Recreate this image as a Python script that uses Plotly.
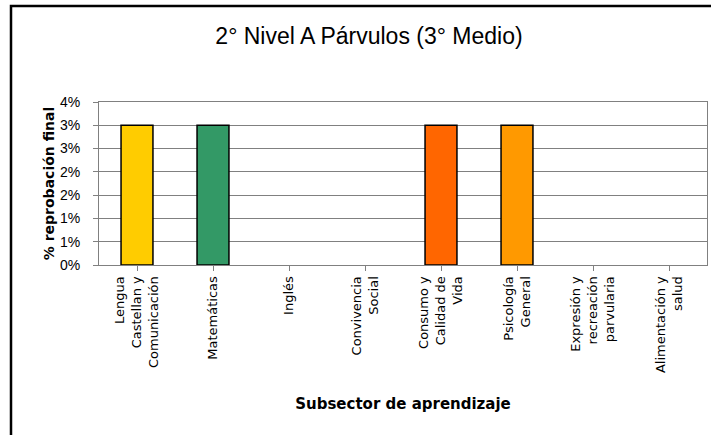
import plotly.graph_objects as go

categories = [
    "Lengua<br>Castellan y<br>Comunicación",
    "Matemáticas",
    "Inglés",
    "Convivencia<br>Social",
    "Consumo y<br>Calidad de<br>Vida",
    "Psicología<br>General",
    "Expresión y<br>recreación<br>parvularia",
    "Alimentación y<br>salud",
]
values = [3.0, 3.0, 0, 0, 3.0, 3.0, 0, 0]
bar_colors = ["#FFCC00", "#339966", "#FFFFFF", "#FFFFFF", "#FF6600", "#FF9900", "#FFFFFF", "#FFFFFF"]
y_tickvals = [0, 0.5, 1.0, 1.5, 2.0, 2.5, 3.0, 3.5]
y_ticktext = ["0%", "1%", "1%", "2%", "2%", "3%", "3%", "4%"]

title_text = "2° Nivel A Párvulos (3° Medio)"
x_title = "Subsector de aprendizaje"
y_title = "% reprobación final"

W, H = 711, 435
L, R, T, B = 99, 4, 102, 170
pw, ph = W - L - R, H - T - B

fig = go.Figure()
fig.add_trace(go.Bar(
    x=list(range(len(categories))),
    y=values,
    width=0.42,
    marker=dict(color=bar_colors,
                line=dict(color="#000000", width=[1.5 if v > 0 else 0 for v in values])),
    hoverinfo="skip",
))

def px_to_paper_x(px):
    return (px - L) / pw

def px_to_paper_y(py):
    return (H - B - py) / ph

fig.update_layout(
    width=W, height=H,
    margin=dict(l=L, r=R, t=T, b=B),
    paper_bgcolor="white",
    plot_bgcolor="white",
    showlegend=False,
    title=dict(text=title_text, x=369 / W, xref="container", xanchor="center",
               y=1 - 36 / H, yref="container", yanchor="middle",
               font=dict(family="Liberation Sans, Arial", size=23, color="#000000")),
    xaxis=dict(
        tickmode="array",
        tickvals=list(range(len(categories))),
        ticktext=categories,
        range=[-0.5, len(categories) - 0.5],
        tickangle=-90,
        ticks="outside", ticklen=5, tickcolor="#808080",
        tickson="boundaries",
        showgrid=False,
        showline=True, linecolor="#808080", linewidth=1, mirror=True,
        tickfont=dict(family="DejaVu Sans", size=13, color="#000000"),
        title=dict(text=x_title, standoff=26,
                   font=dict(family="DejaVu Sans", size=15, color="#000000", weight="bold")),
        automargin=False,
    ),
    yaxis=dict(
        range=[0, 3.5],
        tickmode="array",
        tickvals=y_tickvals,
        ticktext=y_ticktext,
        ticks="outside", ticklen=5, tickcolor="#808080",
        ticklabelstandoff=10,
        showgrid=True, gridcolor="#808080", gridwidth=1,
        showline=True, linecolor="#808080", linewidth=1, mirror=True,
        zeroline=False,
        tickfont=dict(family="Liberation Sans, Arial", size=14, color="#000000"),
        title=dict(text=y_title, standoff=2,
                   font=dict(family="DejaVu Sans", size=14, color="#000000", weight="bold")),
        automargin=False,
    ),
)

# outer chart frame (black, visible on the left and top)
fig.add_shape(type="rect", xref="paper", yref="paper",
              x0=px_to_paper_x(11), x1=px_to_paper_x(W + 20),
              y0=px_to_paper_y(H + 20), y1=px_to_paper_y(6),
              line=dict(color="#000000", width=2.5), fillcolor="rgba(0,0,0,0)",
              layer="below")

fig.write_html("out.html", config={"displayModeBar": False},
               post_script="document.body.style.margin='0';document.body.style.overflow='hidden';")
